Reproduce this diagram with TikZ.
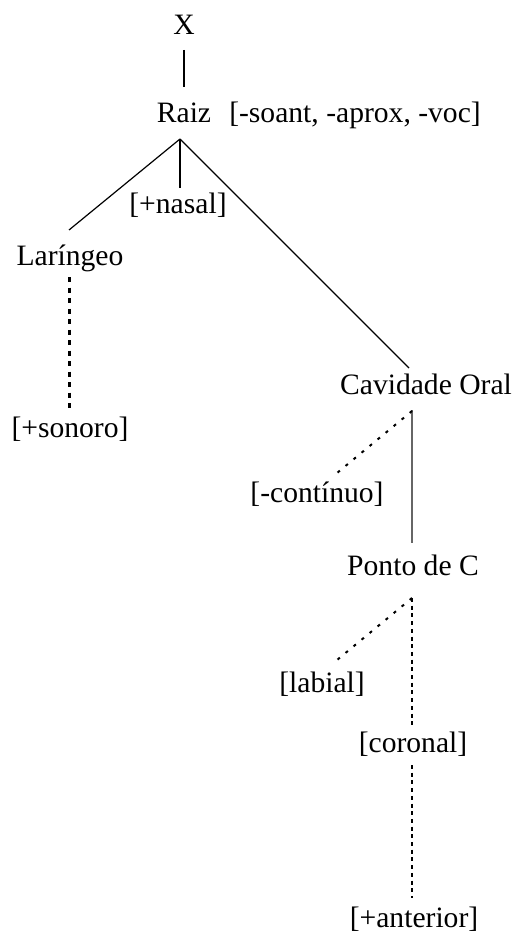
\documentclass[tikz,border=0pt]{standalone}
\usepackage{fontspec}
\setmainfont{Liberation Serif}
\usetikzlibrary{calc}
\begin{document}
\begin{tikzpicture}[x=1pt,y=-1pt,
  lbl/.style={anchor=base,inner sep=0pt,font=\fontsize{29.6}{34}\selectfont},
  link/.style={line width=1.2pt},
  greylink/.style={line width=1.8pt,black!60},
  thickdash/.style={line width=3pt,dash pattern=on 5pt off 5.5pt},
  thindash/.style={line width=2pt,dash pattern=on 4pt off 3.7pt},
  dotlink/.style={line width=2pt,dash pattern=on 3pt off 7.4pt}]
\useasboundingbox (0,0) rectangle (519,936);
\fill[white] (0,0) rectangle (519,936);

% nodes of the feature tree
\node[lbl] (x) at (184,35) {X};
\node[lbl] (raiz) at (184,123) {Raiz};
\node[lbl] (raizfeat) at (355,123) {[-soant, -aprox, -voc]};
\node[lbl] (nasal) at (178,213) {[+nasal]};
\node[lbl] (lar) at (70,265) {Laríngeo};
\node[lbl] (sonoro) at (70,437) {[+sonoro]};
\node[lbl] (cav) at (426,394) {Cavidade Oral};
\node[lbl] (cont) at (317,502) {[-contínuo]};
\node[lbl] (ponto) at (413,575) {Ponto de C};
\node[lbl] (labial) at (322,692) {[labial]};
\node[lbl] (coronal) at (413,752) {[coronal]};
\node[lbl] (anterior) at (414,927) {[+anterior]};

% association lines
\draw[link] ($(x.base)+(0,15)$) -- ($(raiz.base)+(0,-36)$);
\draw[link] ($(raiz.base)+(-4,16)$) -- ($(lar.base)+(-1,-35)$);
\draw[link] ($(raiz.base)+(-4,16)$) -- ($(nasal.base)+(2,-25)$);
\draw[link] ($(raiz.base)+(-4,16)$) -- ($(cav.base)+(-17,-26)$);
\draw[thickdash] ($(lar.base)+(-1,12)$) -- ($(sonoro.base)+(-1,-29)$);
\draw[greylink] ($(cav.base)+(-14,16)$) -- ($(ponto.base)+(-1,-32)$);
\draw[dotlink] ($(cav.base)+(-14,17)$) -- ($(cont.base)+(20,-29)$);
\draw[dotlink] ($(ponto.base)+(-1,23)$) -- ($(labial.base)+(15,-32)$);
\draw[thindash] ($(ponto.base)+(-1,23)$) -- ($(coronal.base)+(-1,-24)$);
\draw[thindash] ($(coronal.base)+(-1,13)$) -- ($(anterior.base)+(-2,-29)$);
\end{tikzpicture}
\end{document}
